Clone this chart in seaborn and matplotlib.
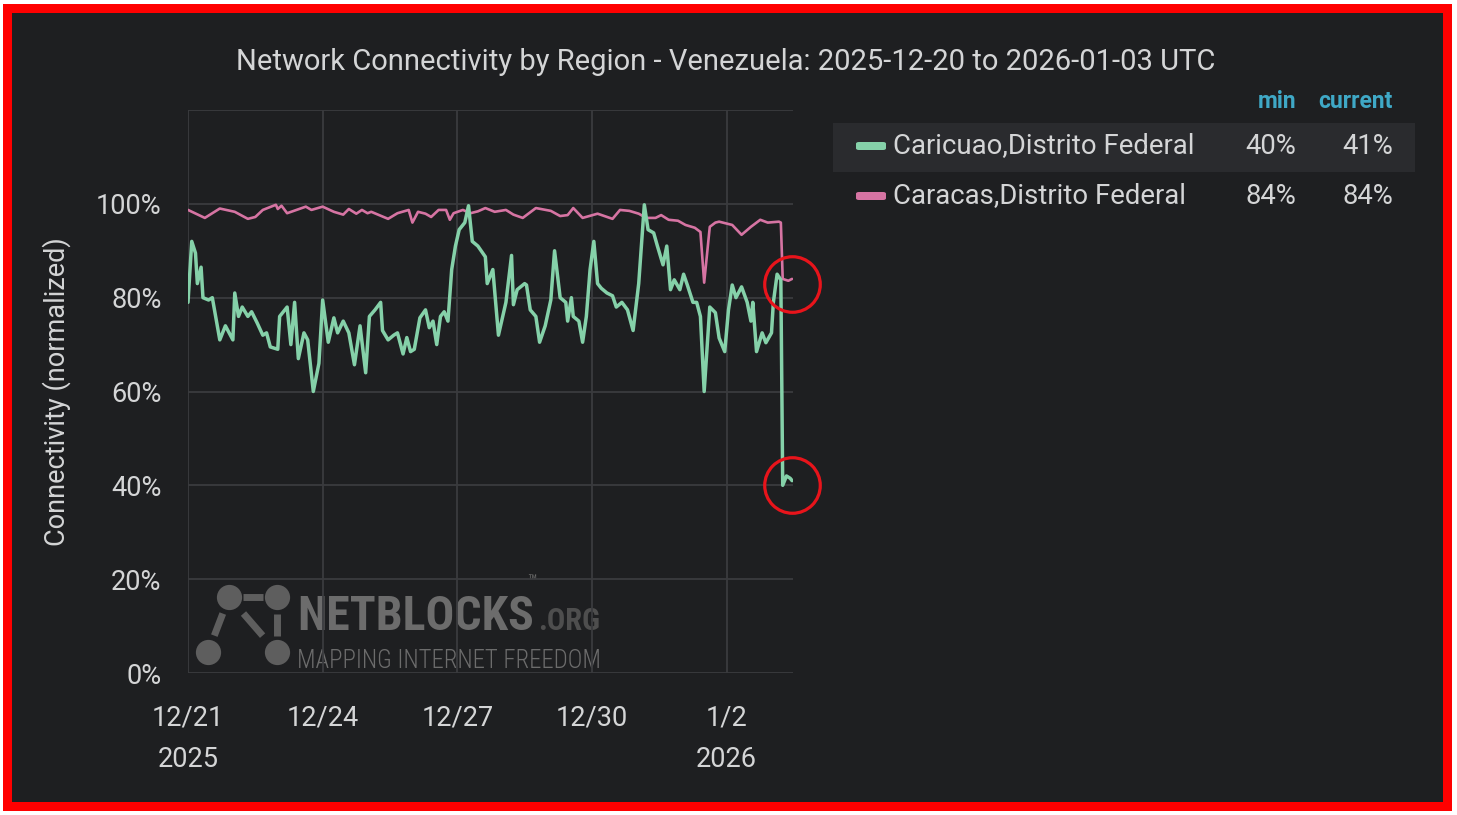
import pandas as pd
import matplotlib
matplotlib.use("Agg")
import matplotlib.pyplot as plt
import seaborn as sns
from matplotlib.patches import Rectangle, FancyBboxPatch
from matplotlib import font_manager

# hours since 2025-12-21 00:00 UTC and normalized connectivity (%)
caricuao_hours = [0, 2, 4, 5, 7, 8, 11, 13, 17, 20, 24, 25, 27, 29, 32, 34, 37, 40, 42, 44,
                  48, 49, 53, 55, 57, 59, 62, 64, 67, 70, 72, 75, 78, 80, 83, 86, 89, 92, 95, 97,
                  100, 103, 104, 107, 110, 112, 115, 117, 119, 121, 124, 127, 129, 131, 133, 135, 137, 139, 141, 143,
                  145, 148, 150, 152, 155, 159, 160, 163, 166, 170, 173, 174, 176, 180, 181, 183, 186, 188, 191, 194,
                  196, 199, 202, 203, 205, 206, 209, 211, 213, 215, 217, 219, 221, 224, 227, 229, 232, 235, 238, 241,
                  244, 246, 249, 251, 254, 256, 258, 260, 263, 265, 267, 270, 272, 274, 276, 279, 282, 284, 287, 289,
                  291, 293, 296, 299, 301, 302, 304, 307, 309, 312, 313, 315, 317, 318, 320, 322, 323]
caricuao_vals = [79, 92, 89.5, 83, 86.5, 80, 79.5, 80, 71, 74, 71, 81, 76, 78, 76, 77, 74.6, 72, 72.5, 69.5,
                 69, 76, 78, 70, 79, 67, 72.5, 71, 60, 66, 79.5, 70.5, 75.7, 72.5, 75, 72.5, 65.7, 74, 64, 76,
                 77.4, 79, 73, 71, 72, 72.5, 68, 71.5, 68.5, 69, 75.7, 77.4, 73.6, 75, 70, 76, 77, 75, 86, 91,
                 94.5, 96, 99.6, 92, 91, 88.7, 83, 86, 72, 79, 89, 78.5, 81.7, 83, 82.7, 77.4, 76, 70.5, 74, 79.5,
                 90, 80, 79, 75, 80, 76, 75, 70.5, 76, 86, 92, 83, 82, 81, 80.4, 78, 79, 77.4, 73, 83,
                 99.8, 94.5, 93.8, 91, 87, 91, 81.7, 83.8, 81.7, 85, 82.7, 79, 79, 76, 60, 78, 76.8, 71.4, 68.5, 77.4,
                 82.7, 80, 82.3, 79, 75, 79, 68.5, 72.5, 70.4, 72.5, 79, 85, 83.8, 40, 42, 41.5, 41]

caracas_hours = [0, 9, 17, 25, 32, 36, 40, 47, 48, 50, 53, 63, 66, 72, 78, 83, 86, 90, 93, 96,
                 98, 107, 112, 118, 120, 123, 127, 130, 134, 138, 140, 142, 147, 151, 155, 159, 164, 170, 174, 179,
                 186, 194, 199, 203, 206, 211, 219, 227, 231, 236, 241, 245, 250, 253, 257, 262, 266, 271, 274, 276,
                 279, 282, 284, 291, 296, 301, 306, 310, 316, 317, 318, 321, 323]
caracas_vals = [98.7, 97, 99, 98.3, 96.8, 97.2, 98.7, 99.8, 98.9, 99.6, 98, 99.4, 98.7, 99.4, 98.3, 97.7, 98.9, 97.9, 98.7, 98,
                98.3, 96.8, 98, 98.7, 96, 98.3, 97.9, 97.2, 98.7, 98.7, 96.6, 98, 98.7, 98, 98.4, 99.1, 98.3, 98.7, 97.7, 97,
                99.1, 98.5, 97.4, 97.6, 99.1, 97, 97.9, 96.8, 98.7, 98.5, 97.9, 97, 97, 97.6, 96.6, 96.4, 95.5, 94.9, 94, 83.2,
                95.1, 96, 96.2, 95.5, 93.4, 95.1, 96.6, 96, 96.2, 96, 84, 83.6, 84]

tick_dates = ["2025-12-21", "2025-12-24", "2025-12-27", "2025-12-30", "2026-01-02"]
tick_labels = ["12/21\n2025", "12/24", "12/27", "12/30", "1/2\n2026"]
y_ticks = [0, 20, 40, 60, 80, 100, 120]
y_labels = ["0%", "20%", "40%", "60%", "80%", "100%", ""]
legend_names = ["Caricuao,Distrito Federal", "Caracas,Distrito Federal"]
legend_min = ["40%", "84%"]
legend_current = ["41%", "84%"]

BG = "#1e1f21"
GRID = "#3a3b3e"
TXT = "#d4d5d6"
GREEN = "#85d1a9"
PINK = "#d674a3"

sns.set_theme(style="dark", rc={"axes.facecolor": BG, "figure.facecolor": "white"})
plt.rcParams["font.family"] = ["Roboto", "DejaVu Sans"]


def pick_font(names):
    for n in names:
        try:
            font_manager.findfont(n, fallback_to_default=False)
            return n
        except Exception:
            pass
    return "Roboto"


narrow = pick_font(["Roboto Condensed", "Liberation Sans Narrow", "Open Sans Condensed", "Noto Sans Condensed"])

start = pd.Timestamp("2025-12-21 00:00")
df_car = pd.DataFrame({"time": start + pd.to_timedelta(caricuao_hours, unit="h"), "value": caricuao_vals})
df_ccs = pd.DataFrame({"time": start + pd.to_timedelta(caracas_hours, unit="h"), "value": caracas_vals})

W, H = 1457, 815
fig = plt.figure(figsize=(W / 100, H / 100), dpi=100)
fig.patches.append(Rectangle((3 / W, 4 / H), 1449 / W, 807 / H, transform=fig.transFigure,
                             facecolor="#ff0000", edgecolor="none", zorder=-3))
fig.patches.append(Rectangle((12 / W, 13 / H), 1431 / W, 789 / H, transform=fig.transFigure,
                             facecolor=BG, edgecolor="none", zorder=-2))

ax = fig.add_axes([188 / W, 1 - 673 / H, (793 - 188) / W, (673 - 110) / H])
ax.set_facecolor(BG)

# watermark
wm = "#5e5e5e"
logo = [(0.068, 0.135), (0.147, 0.135), (0.033, 0.037), (0.147, 0.037)]
for (a, b) in [(0, 1), (0, 2), (0, 3), (1, 3)]:
    (x0, y0), (x1, y1) = logo[a], logo[b]
    ax.plot([x0 + (x1 - x0) * 0.3, x0 + (x1 - x0) * 0.7], [y0 + (y1 - y0) * 0.3, y0 + (y1 - y0) * 0.7],
            color=wm, lw=5, transform=ax.transAxes, zorder=0, solid_capstyle="butt")
ax.scatter([p[0] for p in logo], [p[1] for p in logo], s=330, color=wm, transform=ax.transAxes,
           zorder=0, linewidths=0)

renderer = fig.canvas.get_renderer()


def fit_text(x, y, s, width_px, size, **kw):
    t = ax.text(x, y, s, transform=ax.transAxes, fontsize=size, va="baseline", ha="left", zorder=0, **kw)
    w = t.get_window_extent(renderer).width
    t.set_fontsize(size * width_px / w)
    return t


fit_text(0.180, 0.076, "NETBLOCKS", 236, 40, fontweight="bold", family=narrow, color="#6c6c6c")
fit_text(0.560, 0.152, "™", 10, 9, family=narrow, color="#6c6c6c")
fit_text(0.578, 0.076, ".ORG", 62, 26, fontweight="bold", family=narrow, color="#4e4e4e")
fit_text(0.180, 0.009, "MAPPING INTERNET FREEDOM", 303, 22, family=narrow, color="#6c6c6c",
         fontweight="light")

sns.lineplot(data=df_car, x="time", y="value", ax=ax, color=GREEN, lw=2.5, zorder=3)
sns.lineplot(data=df_ccs, x="time", y="value", ax=ax, color=PINK, lw=1.9, zorder=2)

# highlight circles at the latest readings
for d in (df_ccs, df_car):
    ax.plot(d["time"].iloc[-1], d["value"].iloc[-1] - 1, marker="o", ms=40, mfc="none",
            mec="#e8141b", mew=2.3, clip_on=False, zorder=5)

ax.set_xlim(start, start + pd.Timedelta(hours=323.5))
ax.set_ylim(0, 120)
ax.set_xticks(pd.to_datetime(tick_dates))
ax.set_xticklabels(tick_labels, linespacing=1.65)
ax.set_yticks(y_ticks)
ax.set_yticklabels(y_labels)
ax.tick_params(axis="both", length=0, colors=TXT, labelsize=19.5)
ax.tick_params(axis="x", pad=23)
ax.tick_params(axis="y", pad=19)
ax.grid(True, color=GRID, lw=1.3)
for s in ax.spines.values():
    s.set_visible(False)
ax.set_xlabel("")
ax.set_ylabel("")

fig.text(57 / W, 1 - 392 / H, "Connectivity (normalized)", rotation=90, ha="center", va="center",
         fontsize=19.5, color=TXT)
fig.text(726 / W, 1 - 62 / H, "Network Connectivity by Region - Venezuela: 2025-12-20 to 2026-01-03 UTC",
         ha="center", va="center", fontsize=21, color=TXT)

# legend table
hdr = "#3fa8c6"
fig.text(1296 / W, 1 - 101 / H, "min", ha="right", va="center", fontsize=16.5, color=hdr, fontweight="bold")
fig.text(1393 / W, 1 - 101 / H, "current", ha="right", va="center", fontsize=16.5, color=hdr, fontweight="bold")
fig.patches.append(Rectangle((833 / W, 1 - 172 / H), 582 / W, 49 / H, transform=fig.transFigure,
                             facecolor="#2a2b2e", edgecolor="none", zorder=-1))
for i, (name, mn, cur, col) in enumerate(zip(legend_names, legend_min, legend_current, [GREEN, PINK])):
    yc = 146 + 50 * i
    fig.patches.append(FancyBboxPatch((856 / W, 1 - (yc + 4) / H), 30 / W, 8 / H, transform=fig.transFigure,
                                      boxstyle="round,pad=0,rounding_size=0.002", facecolor=col,
                                      edgecolor="none", zorder=1))
    fig.text(893 / W, 1 - yc / H, name, ha="left", va="center", fontsize=19.8, color=TXT)
    fig.text(1296 / W, 1 - yc / H, mn, ha="right", va="center", fontsize=19.8, color=TXT)
    fig.text(1393 / W, 1 - yc / H, cur, ha="right", va="center", fontsize=19.8, color=TXT)

fig.savefig("out.png", dpi=100, facecolor="white")
